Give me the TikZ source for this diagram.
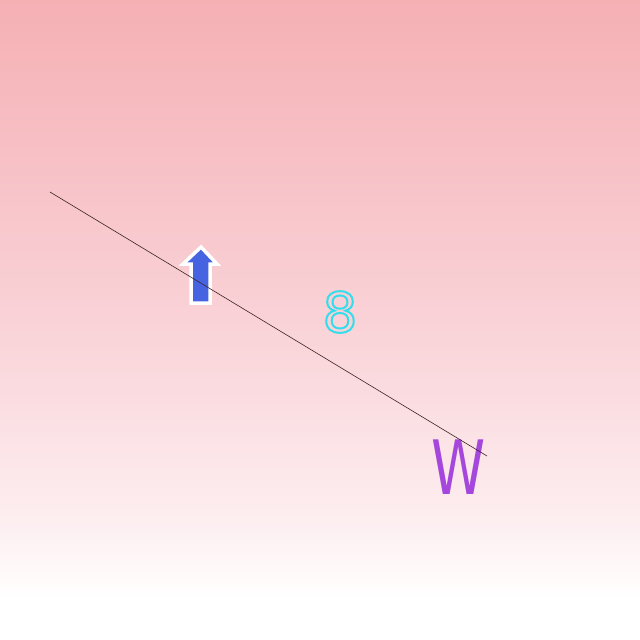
\documentclass[tikz,border=0pt]{standalone}
\usepackage{fontspec}
\setmainfont{DejaVu Sans}
\definecolor{bgtop}{RGB}{245,176,180}
\definecolor{bgmid}{RGB}{249,210,215}
\definecolor{bglow}{RGB}{253,238,240}
\definecolor{arrowblue}{RGB}{70,100,225}
\definecolor{eightcyan}{RGB}{50,222,236}
\definecolor{wpurple}{RGB}{165,70,220}
\definecolor{linecol}{RGB}{60,35,35}
\tikzset{
  thinline/.style={line width=0.6pt, draw=linecol},
  arrowshape/.style={fill=arrowblue, draw=white, line width=3.5pt, line join=miter},
  glyph/.style={inner sep=0pt, outer sep=0pt}
}
\newcommand{\strokedtext}[1]{\special{pdf:literal direct 1 Tr 2 w}#1\special{pdf:literal direct 0 Tr}}
\begin{document}
\begin{tikzpicture}[x=1pt,y=-1pt]
\useasboundingbox (0,0) rectangle (640,640);
\shade[top color=bgtop, bottom color=bgmid] (0,0) rectangle (640,320);
\shade[top color=bgmid, bottom color=bglow] (0,320) rectangle (640,520);
\shade[top color=bglow, bottom color=white] (0,520) rectangle (640,600);
\fill[white] (0,600) rectangle (640,640);
% upward arrow
\draw[arrowshape] (201,247) -- (217,264) -- (210,264) -- (210,303) -- (191,303) -- (191,264) -- (183,264) -- cycle;
% eight (outlined)
\node[glyph, text=eightcyan] (eight) at (340,312) {\fontsize{55}{60}\selectfont\strokedtext{8}};
% W
\node[glyph, text=wpurple] (w) at (459,467) {\fontsize{75}{80}\selectfont\scalebox{0.73}[1]{W}};
% line
\coordinate (ls) at (50,192);
\coordinate (le) at (487,456);
\draw[thinline] (ls) -- (le);
\end{tikzpicture}
\end{document}
